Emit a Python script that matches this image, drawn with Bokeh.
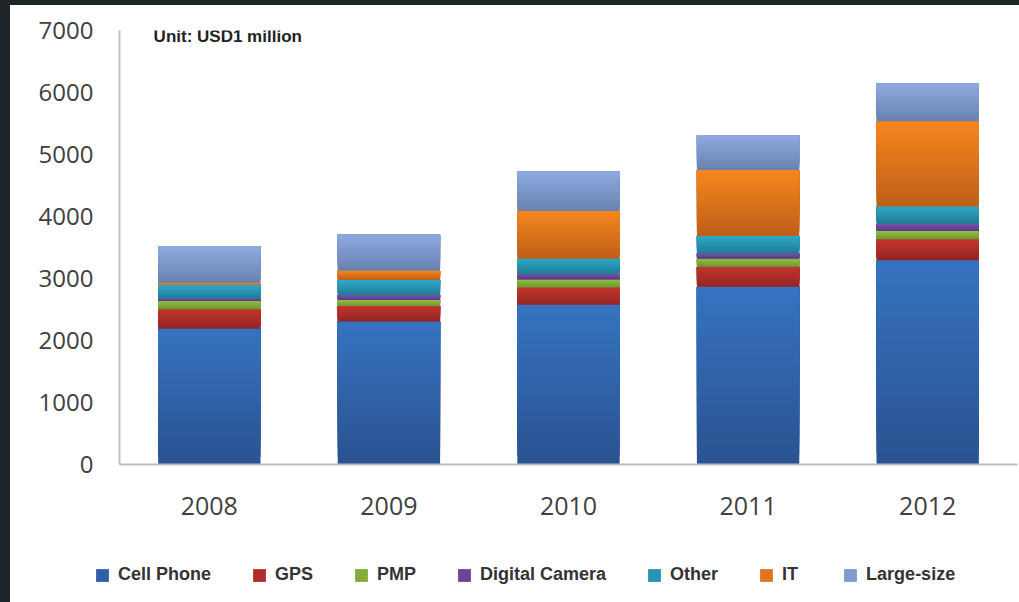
from bokeh.plotting import figure
from bokeh.models import (ColumnDataSource, Range1d, FixedTicker, Legend, LegendItem, Label,
                          Spacer)
from bokeh.layouts import column, row
from bokeh.embed import file_html
from bokeh.resources import INLINE

# ---- data (USD 1 million) ----
years = ["2008", "2009", "2010", "2011", "2012"]
cell_phone = [2190, 2305, 2575, 2865, 3295]
gps = [315, 250, 280, 325, 340]
pmp = [135, 100, 130, 130, 130]
digital_camera = [37, 75, 85, 85, 115]
other = [217, 245, 250, 280, 280]
it = [32, 150, 770, 1065, 1375]
large_size = [590, 580, 630, 555, 605]
y_ticks = [0, 1000, 2000, 3000, 4000, 5000, 6000, 7000]

series_names = ["Cell Phone", "GPS", "PMP", "Digital Camera", "Other", "IT", "Large-size"]
series_values = [cell_phone, gps, pmp, digital_camera, other, it, large_size]
# (top colour, bottom colour, legend colour)
series_colors = [
    ("#3673C1", "#2A5290", "#2F60A8"),
    ("#C3372F", "#942422", "#B02B2A"),
    ("#94BD46", "#6E9830", "#84AC3C"),
    ("#7A52A8", "#573885", "#6A459A"),
    ("#30A8C8", "#1F7C97", "#2893B4"),
    ("#F7871F", "#BD5E18", "#E27420"),
    ("#8EAAE0", "#6881AF", "#7F9AD0"),
]
DARK = "#1E2528"


def hex2rgb(h):
    h = h.lstrip("#")
    return tuple(int(h[i:i + 2], 16) for i in (0, 2, 4))


def lerp(c1, c2, t):
    a, b = hex2rgb(c1), hex2rgb(c2)
    return "#%02x%02x%02x" % tuple(round(a[i] + (b[i] - a[i]) * t) for i in range(3))


LEG_H = 60
p = figure(width=1009, height=597 - LEG_H, output_backend="svg", toolbar_location=None,
           x_range=Range1d(-0.5, 4.5), y_range=Range1d(0, 7000),
           min_border_left=109, min_border_right=2, min_border_top=25,
           min_border_bottom=597 - LEG_H - 459)
p.outline_line_color = None
p.xgrid.visible = False
p.ygrid.visible = False
p.background_fill_color = "white"
p.border_fill_color = "white"

# legend-only strip (its ranges lie away from the data, so the proxy bars stay out of view)
lf = figure(width=1009, height=LEG_H, output_backend="svg", toolbar_location=None,
            x_range=Range1d(-30, -20), y_range=Range1d(-2, -1), x_axis_type=None,
            y_axis_type=None, min_border=0, min_border_left=0, min_border_right=0,
            min_border_top=0, min_border_bottom=0)
lf.outline_line_color = None
lf.xgrid.visible = False
lf.ygrid.visible = False

BAR_W = 0.57
N = 18
xs = list(range(len(years)))
base = [0] * len(years)
legend_items = []
for name, vals, (ctop, cbot, cleg) in zip(series_names, series_values, series_colors):
    sx, sb, st, sc = [], [], [], []
    for i, v in enumerate(vals):
        for k in range(N):
            sx.append(xs[i])
            sb.append(base[i] + v * k / N)
            st.append(base[i] + v)          # each slice reaches the segment top (no seams)
            sc.append(lerp(cbot, ctop, (k + 0.5) / N))
    src = ColumnDataSource(dict(x=sx, bottom=sb, top=st, c=sc))
    p.vbar(x="x", bottom="bottom", top="top", width=BAR_W, source=src,
           fill_color="c", line_color=None)
    # legend proxy: same series data, outside the strip's visible range
    proxy_src = ColumnDataSource(dict(x=xs, top=vals))
    dummy = lf.vbar(x="x", top="top", width=BAR_W, source=proxy_src,
                    fill_color=cleg, line_color=None)
    legend_items.append(LegendItem(label=name, renderers=[dummy]))
    base = [b + v for b, v in zip(base, vals)]

# axes
p.xaxis.ticker = FixedTicker(ticks=xs)
p.xaxis.major_label_overrides = {i: y for i, y in enumerate(years)}
p.yaxis.ticker = FixedTicker(ticks=y_ticks)
for ax in (p.xaxis, p.yaxis):
    ax.axis_line_color = "#BFBFBF"
    ax.axis_line_width = 2
    ax.major_tick_line_color = None
    ax.minor_tick_line_color = None
    ax.major_tick_out = 0
    ax.major_tick_in = 0
    ax.major_label_text_font = "Open Sans"
    ax.major_label_text_color = "#404040"
p.yaxis.major_label_text_font_size = "24px"
p.yaxis.major_label_standoff = 26
p.xaxis.major_label_text_font_size = "25px"
p.xaxis.major_label_standoff = 32

unit = Label(x=-0.31, y=6900, text="Unit: USD1 million", text_font="Liberation Sans",
             text_font_style="bold", text_font_size="17px", text_color="#222222",
             text_baseline="middle")
p.add_layout(unit)

legend = Legend(items=legend_items, orientation="horizontal", location=(84, 17),
                glyph_width=16, glyph_height=16, label_standoff=8, spacing=40,
                padding=0, margin=0, border_line_color=None, background_fill_alpha=0,
                label_text_font="Liberation Sans", label_text_font_style="bold",
                label_text_font_size="18px", label_text_color="#333333",
                label_height=16)
lf.add_layout(legend, "center")

layout = column(Spacer(width=1019, height=5, styles={"background-color": DARK}),
                row(Spacer(width=10, height=597 - LEG_H, styles={"background-color": DARK}),
                    p, spacing=0),
                row(Spacer(width=10, height=LEG_H, styles={"background-color": DARK}),
                    lf, spacing=0),
                spacing=0)

open("out.html", "w").write(file_html(layout, INLINE))
